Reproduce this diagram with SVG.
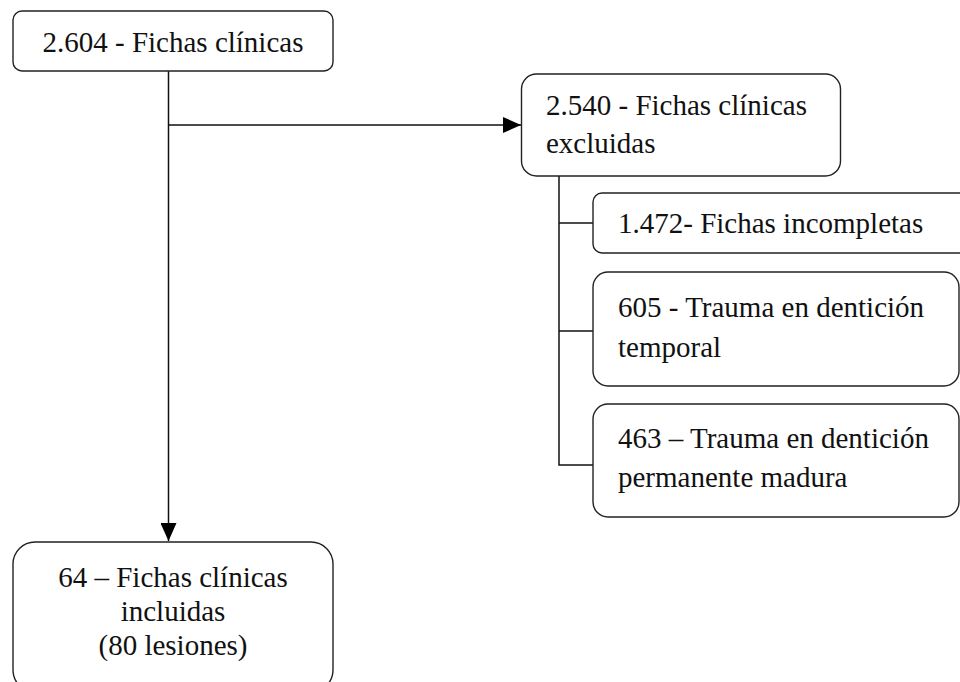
<svg xmlns="http://www.w3.org/2000/svg" width="960" height="682" viewBox="0 0 960 682">
<defs>
<style>
.box{fill:#fff;stroke:#222;stroke-width:1.4}
.ln{fill:none;stroke:#111;stroke-width:1.5}
</style>
<marker id="ah" markerUnits="userSpaceOnUse" markerWidth="18" markerHeight="16" refX="18" refY="8" orient="auto">
<path d="M0,0 L18,8 L0,16 Z" fill="#000"/>
</marker>
</defs>
<rect width="960" height="682" fill="#fff"/>
<g id="connectors">
<line class="ln" x1="168.5" y1="71" x2="168.5" y2="541" marker-end="url(#ah)"/>
<line class="ln" x1="168.5" y1="125" x2="521" y2="125" marker-end="url(#ah)"/>
<polyline class="ln" points="559,176 559,465 593,465"/>
<line class="ln" x1="559" y1="223" x2="593" y2="223"/>
<line class="ln" x1="559" y1="331" x2="593" y2="331"/>
</g>
<g font-family="Liberation Serif, Times New Roman, serif" font-size="29" fill="#111">
<g id="n1">
<rect class="box" x="13" y="11" width="320" height="60" rx="9"/>
<text x="173" y="52" text-anchor="middle">2.604 - Fichas clínicas</text>
</g>
<g id="n2">
<rect class="box" x="521.5" y="74" width="319" height="102" rx="15"/>
<text x="546" y="115">2.540 - Fichas clínicas</text>
<text x="546" y="153">excluidas</text>
</g>
<g id="n3">
<rect class="box" x="593" y="193" width="380" height="60" rx="9"/>
<text x="618" y="233">1.472- Fichas incompletas</text>
</g>
<g id="n4">
<rect class="box" x="593" y="272" width="366" height="114" rx="15"/>
<text x="618" y="317">605 - Trauma en dentición</text>
<text x="618" y="357">temporal</text>
</g>
<g id="n5">
<rect class="box" x="593" y="404" width="366" height="113" rx="15"/>
<text x="618" y="448">463 – Trauma en dentición</text>
<text x="618" y="487">permanente madura</text>
</g>
<g id="n6">
<rect class="box" x="13" y="542" width="320" height="150" rx="22"/>
<text x="173" y="587" text-anchor="middle">64 – Fichas clínicas</text>
<text x="173" y="621" text-anchor="middle">incluidas</text>
<text x="173" y="655" text-anchor="middle">(80 lesiones)</text>
</g>
</g>
</svg>
